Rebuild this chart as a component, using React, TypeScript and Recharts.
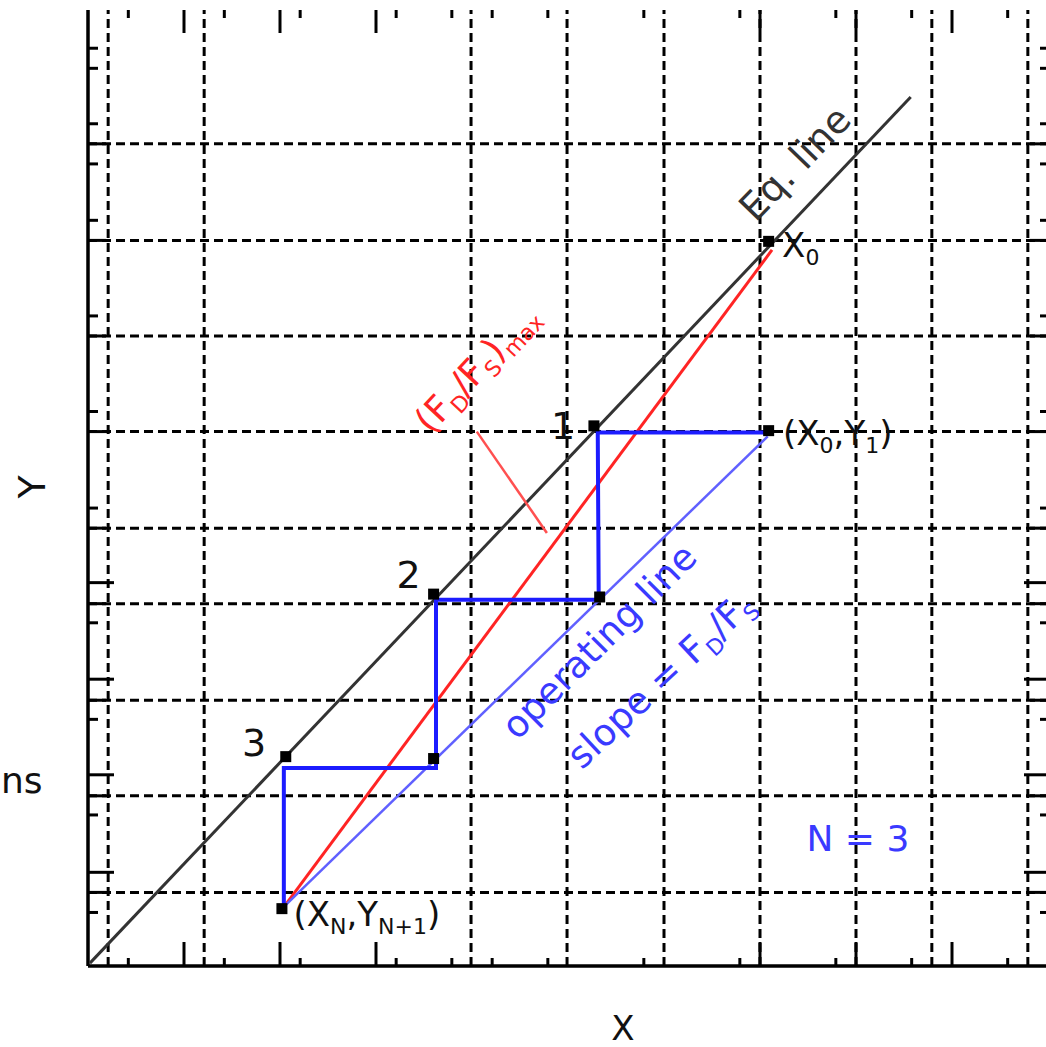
import React from 'react';
import {
  ComposedChart,
  Line,
  Scatter,
  XAxis,
  YAxis,
  ReferenceLine,
  ReferenceDot,
} from 'recharts';

// axes are normalised 0..1 (x = liquid fraction X, y = vapour fraction Y)
const xGrid = [0.021, 0.121, 0.399, 0.499, 0.6, 0.7, 0.8, 0.879, 0.979];
const yGrid = [0.86, 0.759, 0.659, 0.559, 0.458, 0.379, 0.278, 0.178, 0.077];

const xTicksLong = [0.1, 0.2, 0.3, 0.7, 0.8, 0.9];
const xTicksShort = [0.042, 0.142, 0.221, 0.321, 0.379, 0.421, 0.479, 0.579, 0.679, 0.779, 0.858, 0.958];
const yTicksLong = [0.401, 0.3, 0.2, 0.098];
const yTicksShort = [0.96, 0.939, 0.881, 0.839, 0.78, 0.68, 0.58, 0.479, 0.359, 0.258, 0.158, 0.056];

const eqLine = [
  { x: 0.002, y: 0.003 },
  { x: 0.857, y: 0.909 },
];
const maxRatioLine = [
  { x: 0.202, y: 0.059 },
  { x: 0.7125, y: 0.749 },
];
const operatingLine = [
  { x: 0.205, y: 0.063 },
  { x: 0.708, y: 0.554 },
];
const stages = [
  { x: 0.71, y: 0.558 },
  { x: 0.531, y: 0.558 },
  { x: 0.532, y: 0.383 },
  { x: 0.3625, y: 0.383 },
  { x: 0.3625, y: 0.207 },
  { x: 0.204, y: 0.207 },
  { x: 0.204, y: 0.059 },
];
const markers = [
  { x: 0.709, y: 0.758 },
  { x: 0.527, y: 0.565 },
  { x: 0.709, y: 0.56 },
  { x: 0.36, y: 0.389 },
  { x: 0.533, y: 0.386 },
  { x: 0.206, y: 0.219 },
  { x: 0.36, y: 0.217 },
  { x: 0.202, y: 0.06 },
];
const ratioTick = [
  { x: 0.405, y: 0.559 },
  { x: 0.478, y: 0.453 },
];

const FONT = '"DejaVu Sans", Verdana, sans-serif';
const BLUE_TEXT = '#3a3aff';
const RED = '#ff2424';

const SX = 1 / 960; // one pixel in x units
const SY = 1 / 956; // one pixel in y units

const Square = (p: any) => <rect x={p.cx - 5.5} y={p.cy - 5.5} width={11} height={11} fill="#000" />;

function textAt(
  x: number,
  y: number,
  content: React.ReactNode,
  opts: { size: number; fill: string; angle?: number; anchor?: string },
) {
  return (
    <ReferenceDot
      x={x}
      y={y}
      r={0}
      ifOverflow="visible"
      shape={(p: any) => (
        <text
          x={p.cx}
          y={p.cy}
          dy="0.36em"
          fontFamily={FONT}
          fontSize={opts.size}
          fill={opts.fill}
          textAnchor={opts.anchor || 'middle'}
          transform={opts.angle ? `rotate(${opts.angle} ${p.cx} ${p.cy})` : undefined}
        >
          {content}
        </text>
      )}
    />
  );
}

export default function App() {
  const tick = (key: string, a: { x: number; y: number }, b: { x: number; y: number }) => (
    <ReferenceLine key={key} segment={[a, b]} stroke="#000" strokeWidth={3} ifOverflow="visible" />
  );

  return (
    <div style={{ position: 'absolute', left: 0, top: 0, width: 1046, height: 1047, overflow: 'hidden', background: '#fff' }}>
      <ComposedChart width={1050} height={1047} margin={{ top: 10, right: 2, bottom: 81, left: 88 }}>
        <XAxis type="number" dataKey="x" domain={[0, 1]} allowDataOverflow hide />
        <YAxis type="number" dataKey="y" domain={[0, 1]} allowDataOverflow hide />

        {xGrid.map((v) => (
          <ReferenceLine key={`gx${v}`} x={v} stroke="#000" strokeWidth={3} strokeDasharray="9 5" />
        ))}
        {yGrid.map((v) => (
          <ReferenceLine key={`gy${v}`} y={v} stroke="#000" strokeWidth={3} strokeDasharray="9 5" />
        ))}

        {yGrid.map((v) => tick(`gl${v}`, { x: 0, y: v }, { x: 18 * SX, y: v }))}
        {yGrid.map((v) => tick(`gr${v}`, { x: 1 - 18 * SX, y: v }, { x: 1, y: v }))}
        {yTicksShort.map((v) => tick(`ysl${v}`, { x: 0, y: v }, { x: 10 * SX, y: v }))}
        {yTicksShort.map((v) => tick(`ysr${v}`, { x: 1 - 8 * SX, y: v }, { x: 1, y: v }))}
        {yTicksLong.map((v) => tick(`yll${v}`, { x: 0, y: v }, { x: 26 * SX, y: v }))}
        {yTicksLong.map((v) => tick(`ylr${v}`, { x: 1 - 24 * SX, y: v }, { x: 1, y: v }))}
        {xTicksShort.map((v) => tick(`xsb${v}`, { x: v, y: 0 }, { x: v, y: 8 * SY }))}
        {xTicksShort.map((v) => tick(`xst${v}`, { x: v, y: 1 - 8 * SY }, { x: v, y: 1 }))}
        {xTicksLong.map((v) => tick(`xlb${v}`, { x: v, y: 0 }, { x: v, y: 24 * SY }))}
        {xTicksLong.map((v) => tick(`xlt${v}`, { x: v, y: 1 - 23 * SY }, { x: v, y: 1 }))}

        {/* axis frame: left and bottom */}
        <ReferenceLine x={0} stroke="#000" strokeWidth={3.5} ifOverflow="visible" />
        <ReferenceLine y={0} stroke="#000" strokeWidth={3.5} ifOverflow="visible" />

        <Line data={eqLine} dataKey="y" type="linear" stroke="#333" strokeWidth={3} dot={false} isAnimationActive={false} />
        <Line data={maxRatioLine} dataKey="y" type="linear" stroke={RED} strokeWidth={3} dot={false} isAnimationActive={false} />
        <Line data={ratioTick} dataKey="y" type="linear" stroke="#ff5050" strokeWidth={2.5} dot={false} isAnimationActive={false} />
        <Line data={operatingLine} dataKey="y" type="linear" stroke="#6060ff" strokeWidth={2.5} dot={false} isAnimationActive={false} />
        <Line data={stages} dataKey="y" type="linear" stroke="#1c1cff" strokeWidth={4} dot={false} isAnimationActive={false} />
        <Scatter data={markers} dataKey="y" shape={Square} isAnimationActive={false} />

        {textAt(0.736, 0.84, 'Eq. line', { size: 38, fill: '#333', angle: -46 })}
        {textAt(
          0.404,
          0.626,
          <>
            (F<tspan fontSize={22} dy={8}>D</tspan>
            <tspan dy={-8}>/F</tspan>
            <tspan fontSize={22} dy={8}>S</tspan>
            <tspan dy={-8}>)</tspan>
            <tspan fontSize={22} dy={8}>max</tspan>
          </>,
          { size: 36, fill: RED, angle: -47 },
        )}
        {textAt(0.532, 0.34, 'operating line', { size: 37, fill: BLUE_TEXT, angle: -45 })}
        {textAt(
          0.596,
          0.3,
          <>
            slope = F<tspan fontSize={22} dy={8}>D</tspan>
            <tspan dy={-8}>/F</tspan>
            <tspan fontSize={22} dy={8}>S</tspan>
          </>,
          { size: 37, fill: BLUE_TEXT, angle: -43 },
        )}
        {textAt(0.802, 0.134, 'N = 3', { size: 36, fill: BLUE_TEXT })}
        {textAt(0.495, 0.566, '1', { size: 38, fill: '#111' })}
        {textAt(0.334, 0.41, '2', { size: 38, fill: '#111' })}
        {textAt(0.173, 0.234, '3', { size: 38, fill: '#111' })}
        {textAt(
          0.723,
          0.754,
          <>
            X<tspan fontSize={22} dy={8}>0</tspan>
          </>,
          { size: 34, fill: '#111', anchor: 'start' },
        )}
        {textAt(
          0.724,
          0.558,
          <>
            (X<tspan fontSize={22} dy={8}>0</tspan>
            <tspan dy={-8}>,Y</tspan>
            <tspan fontSize={22} dy={8}>1</tspan>
            <tspan dy={-8}>)</tspan>
          </>,
          { size: 34, fill: '#111', anchor: 'start' },
        )}
        {textAt(
          0.214,
          0.055,
          <>
            (X<tspan fontSize={22} dy={8}>N</tspan>
            <tspan dy={-8}>,Y</tspan>
            <tspan fontSize={22} dy={8}>N+1</tspan>
            <tspan dy={-8}>)</tspan>
          </>,
          { size: 34, fill: '#111', anchor: 'start' },
        )}
      </ComposedChart>

      <svg width={1046} height={1047} style={{ position: 'absolute', left: 0, top: 0, pointerEvents: 'none' }}>
        <text x={32} y={487} fontFamily={FONT} fontSize={38} fill="#111" textAnchor="middle" dominantBaseline="central" transform="rotate(-90 32 487)">
          Y
        </text>
        <text x={1} y={793} fontFamily={FONT} fontSize={36} fill="#111" textAnchor="start">
          ns
        </text>
        <text x={623} y={1040} fontFamily={FONT} fontSize={34} fill="#111" textAnchor="middle">
          X
        </text>
      </svg>
    </div>
  );
}
